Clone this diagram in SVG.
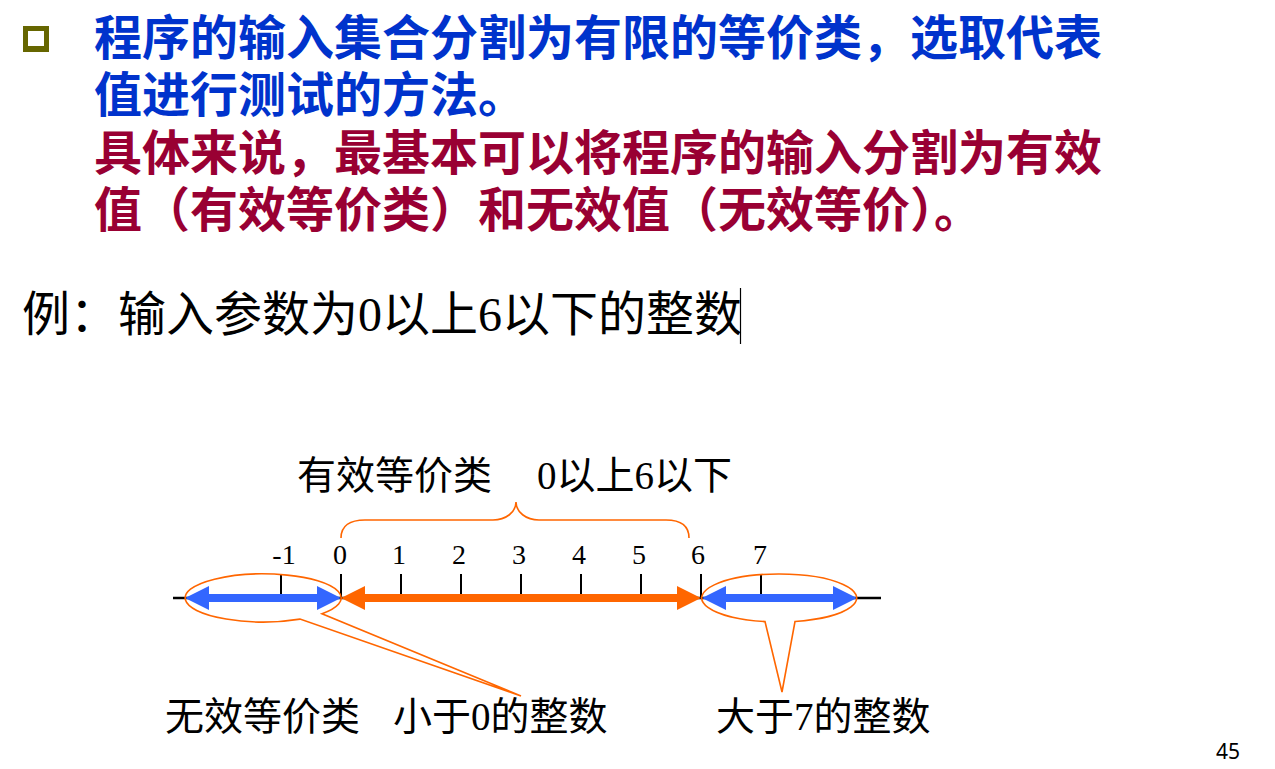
<svg xmlns="http://www.w3.org/2000/svg" width="1275" height="769" viewBox="0 0 1275 769">
<style>
.hb{font-family:"Liberation Sans","Noto Sans CJK SC",sans-serif;font-weight:bold;font-size:48px}
.blue{fill:#0033CC}
.red{fill:#990033}
.blk{font-family:"Liberation Serif","Noto Sans CJK SC",serif;fill:#000}
.num{font-family:"Liberation Serif",serif;font-size:28px;fill:#000;text-anchor:middle}
.or{fill:none;stroke:#FF6600;stroke-width:1.6}
.tick{stroke:#000;stroke-width:2}
</style>
<rect width="1275" height="769" fill="#fff"/>
<g id="bullet">
<rect x="23" y="26" width="26" height="26" fill="#666600"/>
<rect x="28" y="31" width="16" height="15" fill="#fff"/>
</g>
<g id="heading">
<text class="hb blue" x="94" y="55">程序的输入集合分割为有限的等价类，选取代表</text>
<text class="hb blue" x="94" y="112">值进行测试的方法。</text>
<text class="hb red" x="94" y="170">具体来说，最基本可以将程序的输入分割为有效</text>
<text class="hb red" x="94" y="227">值（有效等价类）和无效值（无效等价）。</text>
</g>
<g id="example">
<text class="blk" x="22" y="331" font-size="48">例：输入参数为0以上6以下的整数</text>
<line x1="740.5" y1="288" x2="740.5" y2="344" stroke="#000" stroke-width="1.2"/>
</g>
<g id="valid-label">
<text class="blk" x="297" y="489" font-size="39">有效等价类</text>
<text class="blk" x="537" y="489" font-size="39">0以上6以下</text>
<path class="or" d="M341 538 C341 526 350 520 365 520 L493 520 C506 520 516 512 516 502 C516 512 526 520 539 520 L666 520 C681 520 689 526 689 538"/>
</g>
<g id="axis">
<line x1="173" y1="598" x2="881" y2="598" stroke="#000" stroke-width="2.5"/>
<line class="tick" x1="281" y1="574" x2="281" y2="598"/>
<line class="tick" x1="341" y1="574" x2="341" y2="598"/>
<line class="tick" x1="401" y1="574" x2="401" y2="598"/>
<line class="tick" x1="461" y1="574" x2="461" y2="598"/>
<line class="tick" x1="521" y1="574" x2="521" y2="598"/>
<line class="tick" x1="581" y1="574" x2="581" y2="598"/>
<line class="tick" x1="641" y1="574" x2="641" y2="598"/>
<line class="tick" x1="701" y1="574" x2="701" y2="598"/>
<line class="tick" x1="761" y1="574" x2="761" y2="598"/>
<text class="num" x="284" y="564">-1</text>
<text class="num" x="340" y="564">0</text>
<text class="num" x="399" y="564">1</text>
<text class="num" x="459" y="564">2</text>
<text class="num" x="519" y="564">3</text>
<text class="num" x="579" y="564">4</text>
<text class="num" x="639" y="564">5</text>
<text class="num" x="698" y="564">6</text>
<text class="num" x="760" y="564">7</text>
</g>
<g id="connectors">
<polygon fill="#3366FF" points="185,598 209,586 209,594 317,594 317,586 341,598 317,610 317,602 209,602 209,610"/>
<polygon fill="#FF6600" points="341,598 365,586 365,594 677,594 677,586 701,598 677,610 677,602 365,602 365,610"/>
<polygon fill="#3366FF" points="702,598 726,586 726,594 833,594 833,586 857,598 833,610 833,602 726,602 726,610"/>
</g>
<g id="invalid-low">
<path class="or" d="M300 619.1 A78 24 0 1 1 322 613.7 L521 696 Z"/>
<text class="blk" x="165" y="730" font-size="39">无效等价类</text>
<text class="blk" x="393" y="730" font-size="39">小于0的整数</text>
</g>
<g id="invalid-high">
<path class="or" d="M765 621.6 A77.5 24 0 1 1 795 621.5 L782 692 Z"/>
<text class="blk" x="716" y="730" font-size="39">大于7的整数</text>
</g>
<g id="page">
<text x="1216" y="759" font-family="Noto Sans, sans-serif" font-size="21" fill="#000">45</text>
</g>
</svg>
